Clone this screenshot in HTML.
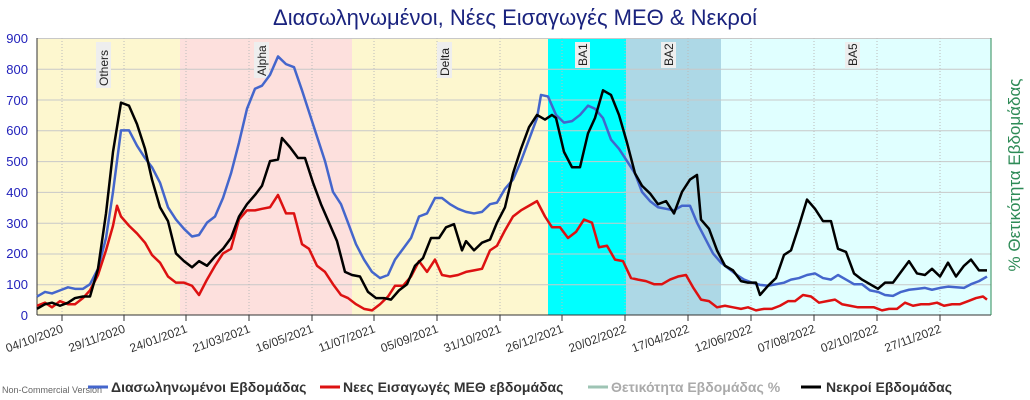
<!DOCTYPE html>
<html><head><meta charset="utf-8"><style>
body{margin:0;background:#fff;}
svg{display:block;font-family:"Liberation Sans",sans-serif;}
</style></head><body>
<svg width="1030" height="400" viewBox="0 0 1030 400">
<text x="515" y="25" text-anchor="middle" font-size="22" fill="#1a237e">Διασωληνωμένοι, Νέες Εισαγωγές ΜΕΘ &amp; Νεκροί</text>
<rect x="37" y="38" width="143" height="277" fill="#fdf7cf"/>
<rect x="180" y="38" width="172" height="277" fill="#fde0dd"/>
<rect x="352" y="38" width="196" height="277" fill="#fdf7cf"/>
<rect x="548" y="38" width="78" height="277" fill="#00ffff"/>
<rect x="626" y="38" width="95" height="277" fill="#add8e6"/>
<rect x="721" y="38" width="270" height="277" fill="#e0ffff"/>
<g stroke="#c8c8c8" stroke-width="1">
<line x1="37" x2="991" y1="38.5" y2="38.5"/><line x1="37" x2="991" y1="69.3" y2="69.3"/><line x1="37" x2="991" y1="100" y2="100"/><line x1="37" x2="991" y1="130.8" y2="130.8"/><line x1="37" x2="991" y1="161.6" y2="161.6"/><line x1="37" x2="991" y1="192.4" y2="192.4"/><line x1="37" x2="991" y1="223.2" y2="223.2"/><line x1="37" x2="991" y1="254" y2="254"/><line x1="37" x2="991" y1="284.7" y2="284.7"/>
</g>
<g stroke="#bbb" stroke-dasharray="1,2">
<line x1="62" x2="62" y1="38" y2="315"/><line x1="124" x2="124" y1="38" y2="315"/><line x1="186" x2="186" y1="38" y2="315"/><line x1="249" x2="249" y1="38" y2="315"/><line x1="312" x2="312" y1="38" y2="315"/><line x1="374" x2="374" y1="38" y2="315"/><line x1="437" x2="437" y1="38" y2="315"/><line x1="500" x2="500" y1="38" y2="315"/><line x1="562" x2="562" y1="38" y2="315"/><line x1="625" x2="625" y1="38" y2="315"/><line x1="688" x2="688" y1="38" y2="315"/><line x1="751" x2="751" y1="38" y2="315"/><line x1="814" x2="814" y1="38" y2="315"/><line x1="877" x2="877" y1="38" y2="315"/><line x1="940" x2="940" y1="38" y2="315"/>
</g>
<g font-size="12" fill="#222">
<g transform="translate(108,86) rotate(-90)"><rect x="-2" y="-12" width="46" height="15" fill="#eee"/><text x="0" y="0">Others</text></g>
<g transform="translate(266,76) rotate(-90)"><rect x="-2" y="-12" width="36" height="15" fill="#eee"/><text x="0" y="0">Alpha</text></g>
<g transform="translate(449,76) rotate(-90)"><rect x="-2" y="-12" width="36" height="15" fill="#eee"/><text x="0" y="0">Delta</text></g>
<g transform="translate(587,66) rotate(-90)"><rect x="-2" y="-12" width="26" height="15" fill="#eee"/><text x="0" y="0">BA1</text></g>
<g transform="translate(673,66) rotate(-90)"><rect x="-2" y="-12" width="26" height="15" fill="#eee"/><text x="0" y="0">BA2</text></g>
<g transform="translate(857,66) rotate(-90)"><rect x="-2" y="-12" width="26" height="15" fill="#eee"/><text x="0" y="0">BA5</text></g>
</g>
<line x1="37" x2="37" y1="38" y2="315" stroke="#333"/>
<line x1="37" x2="991" y1="315" y2="315" stroke="#333"/>
<line x1="991" x2="991" y1="38" y2="315" stroke="#2e8b57"/>
<g font-size="13" fill="#2222bb" text-anchor="end">
<text x="28" y="43">900</text><text x="28" y="74">800</text><text x="28" y="105">700</text><text x="28" y="135">600</text><text x="28" y="166">500</text><text x="28" y="197">400</text><text x="28" y="228">300</text><text x="28" y="258">200</text><text x="28" y="289">100</text><text x="28" y="320">0</text>
</g>
<g stroke="#333"><line x1="62" x2="62" y1="315" y2="321"/><line x1="124" x2="124" y1="315" y2="321"/><line x1="186" x2="186" y1="315" y2="321"/><line x1="249" x2="249" y1="315" y2="321"/><line x1="312" x2="312" y1="315" y2="321"/><line x1="374" x2="374" y1="315" y2="321"/><line x1="437" x2="437" y1="315" y2="321"/><line x1="500" x2="500" y1="315" y2="321"/><line x1="562" x2="562" y1="315" y2="321"/><line x1="625" x2="625" y1="315" y2="321"/><line x1="688" x2="688" y1="315" y2="321"/><line x1="751" x2="751" y1="315" y2="321"/><line x1="814" x2="814" y1="315" y2="321"/><line x1="877" x2="877" y1="315" y2="321"/><line x1="940" x2="940" y1="315" y2="321"/></g>
<g font-size="12" fill="#333" text-anchor="end">
<text transform="translate(64,332) rotate(-20)">04/10/2020</text>
<text transform="translate(126,332) rotate(-20)">29/11/2020</text>
<text transform="translate(188,332) rotate(-20)">24/01/2021</text>
<text transform="translate(251,332) rotate(-20)">21/03/2021</text>
<text transform="translate(314,332) rotate(-20)">16/05/2021</text>
<text transform="translate(376,332) rotate(-20)">11/07/2021</text>
<text transform="translate(439,332) rotate(-20)">05/09/2021</text>
<text transform="translate(502,332) rotate(-20)">31/10/2021</text>
<text transform="translate(564,332) rotate(-20)">26/12/2021</text>
<text transform="translate(627,332) rotate(-20)">20/02/2022</text>
<text transform="translate(690,332) rotate(-20)">17/04/2022</text>
<text transform="translate(753,332) rotate(-20)">12/06/2022</text>
<text transform="translate(816,332) rotate(-20)">07/08/2022</text>
<text transform="translate(879,332) rotate(-20)">02/10/2022</text>
<text transform="translate(942,332) rotate(-20)">27/11/2022</text>
</g>
<text transform="translate(1020,175) rotate(-90)" text-anchor="middle" font-size="17" fill="#2e8b57">% Θετικότητα Εβδομάδας</text>
<g transform="translate(0,315) scale(1,-0.3078)" fill="none" stroke-width="2.5" stroke-linejoin="round">
<polyline vector-effect="non-scaling-stroke" stroke="#4466cc" points="37,60 45,75 52,70 60,80 68,90 75,85 83,85 90,100 98,150 106,250 113,400 121,600 129,600 137,550 145,510 152,480 160,430 168,350 176,310 184,280 192,255 199,260 207,300 215,320 223,380 231,460 239,560 247,670 255,735 262,745 270,780 278,840 286,815 294,805 302,730 309,660 317,580 325,500 333,400 341,360 348,300 356,230 364,180 372,140 380,120 388,130 395,180 403,215 411,250 419,320 427,330 435,380 442,380 450,360 458,345 466,335 474,330 482,335 490,360 497,365 505,410 513,440 521,500 529,570 537,640 541,715 548,710 556,650 564,625 572,630 580,650 588,680 595,670 603,640 611,570 619,540 627,500 635,460 642,400 650,370 658,350 666,345 674,340 682,355 690,355 697,300 705,250 713,200 721,170 729,150 737,130 744,115 752,105 760,98 768,95 776,100 784,105 791,115 799,120 807,130 815,135 823,120 831,115 838,130 846,115 854,100 862,100 870,80 878,75 885,65 893,62 901,75 909,82 917,85 925,88 932,82 940,88 948,92 956,90 964,88 971,100 979,110 987,125"/>
<polyline vector-effect="non-scaling-stroke" stroke="#dd1111" points="37,30 45,40 52,25 60,45 68,35 75,35 83,55 90,80 98,130 106,210 113,290 117,355 121,320 129,290 137,265 145,235 152,195 160,170 168,125 176,105 184,105 192,95 199,65 207,115 215,160 223,200 231,215 239,310 247,340 255,340 262,345 270,350 278,390 286,330 294,330 302,230 309,215 317,160 325,140 333,100 341,65 348,55 356,35 364,20 372,15 380,35 388,60 395,95 403,95 411,125 419,175 427,140 435,180 442,130 450,125 458,130 466,140 474,145 482,150 490,210 497,225 505,275 513,320 521,340 529,355 537,370 545,320 552,285 560,285 568,250 576,270 584,310 592,300 599,220 607,225 615,180 623,175 631,120 638,115 646,110 654,100 662,100 670,115 678,125 686,130 693,90 701,50 709,45 717,25 725,30 733,25 741,20 748,25 756,15 764,20 772,20 780,30 788,45 795,45 803,65 811,60 819,40 827,45 835,50 842,35 850,30 858,25 866,25 874,25 882,15 889,20 897,20 905,40 913,30 921,35 929,35 937,40 944,30 952,35 960,35 968,45 976,55 983,60 987,50"/>
<polyline vector-effect="non-scaling-stroke" stroke="#000" points="37,20 45,35 52,40 60,30 68,40 75,55 83,60 90,60 98,150 106,330 113,530 121,690 129,680 137,620 145,540 152,440 160,350 168,305 176,200 184,175 192,155 199,175 207,160 215,190 223,215 231,250 239,320 247,360 255,390 262,420 270,500 278,505 282,575 290,545 298,510 305,510 313,430 321,360 329,300 337,240 345,140 352,130 360,125 368,75 376,55 384,55 391,50 399,80 407,100 415,160 423,185 431,250 439,250 446,285 454,295 462,210 466,240 474,210 482,235 490,245 497,300 505,350 513,460 521,540 529,610 537,650 545,635 552,650 556,640 564,530 572,480 580,480 588,590 595,640 603,730 611,715 619,650 627,560 635,460 642,420 650,395 658,360 666,370 674,330 682,400 690,440 697,455 701,310 709,280 717,210 725,160 733,145 741,110 748,105 756,105 760,65 768,95 776,120 784,195 791,210 799,290 807,375 815,345 823,305 831,305 838,215 846,205 854,135 862,115 870,100 878,85 885,105 893,105 901,140 909,175 917,135 925,130 932,150 940,125 948,170 956,125 964,160 971,180 979,145 987,145"/>
</g>
<text x="2" y="393" font-size="9" fill="#666">Non-Commercial Version</text>
<g font-size="14" font-weight="bold" fill="#333">
<line x1="88" x2="108" y1="387" y2="387" stroke="#4466cc" stroke-width="3"/><text x="111" y="392">Διασωληνωμένοι Εβδομάδας</text>
<line x1="320" x2="340" y1="387" y2="387" stroke="#dd1111" stroke-width="3"/><text x="343" y="392">Νεες Εισαγωγές ΜΕΘ εβδομάδας</text>
<line x1="588" x2="608" y1="387" y2="387" stroke="#9ec4b4" stroke-width="3"/><text x="611" y="392" fill="#aaa">Θετικότητα Εβδομάδας %</text>
<line x1="801" x2="821" y1="387" y2="387" stroke="#000" stroke-width="3"/><text x="826" y="392">Νεκροί Εβδομάδας</text>
</g>
</svg>
</body></html>
